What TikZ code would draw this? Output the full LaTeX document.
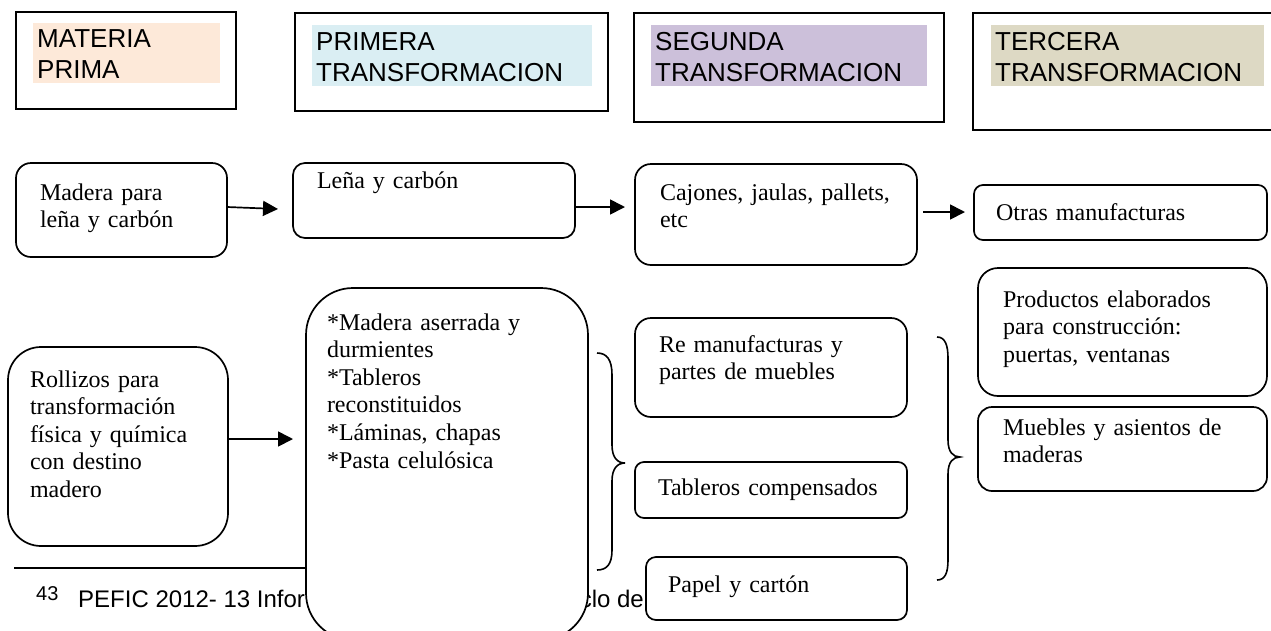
\documentclass[tikz,border=0pt]{standalone}
\usepackage{fontspec}
\setmainfont{Liberation Serif}
\newfontfamily\hsans{Liberation Sans}
\usetikzlibrary{arrows.meta}
\definecolor{cMat}{HTML}{FDE9D9}
\definecolor{cPri}{HTML}{DAEEF3}
\definecolor{cSeg}{HTML}{CCC0DA}
\definecolor{cTer}{HTML}{DDD9C4}
\begin{document}
\begin{tikzpicture}[x=1pt,y=-1pt,
  hdr/.style={draw, line width=1.8pt, anchor=north west, inner sep=0pt, outer sep=0pt},
  hl/.style={anchor=north west, inner xsep=4pt, inner ysep=0pt, align=left, font=\hsans\fontsize{26}{31}\selectfont},
  rb/.style={draw, line width=1.7pt, fill=white, anchor=north west, inner ysep=0pt, outer sep=0pt, align=left, font=\fontsize{24}{27.6}\selectfont},
  arr/.style={line width=1.7pt, -{Triangle[length=15pt,width=15pt]}},
  bracestyle/.style={line width=1.6pt},
  fnote/.style={anchor=base west, inner sep=0pt, font=\hsans\fontsize{24}{28}\selectfont}
]
\useasboundingbox (0,0) rectangle (1271,630);
\fill[white] (0,0) rectangle (1271,630);

% header boxes
\node[hdr, minimum width=220pt, minimum height=97pt] (h1) at (16,12) {};
\node[hl, fill=cMat, text width=179pt, text height=24pt, text depth=36pt] (h1t) at (33,23) {MATERIA\\PRIMA};
\node[hdr, minimum width=313pt, minimum height=98pt] (h2) at (295,13) {};
\node[hl, fill=cPri, text width=272pt, text height=25pt, text depth=36pt] (h2t) at (312,25) {PRIMERA\\TRANSFORMACION};
\node[hdr, minimum width=310pt, minimum height=109pt] (h3) at (634,13) {};
\node[hl, fill=cSeg, text width=268pt, text height=25pt, text depth=36pt] (h3t) at (651,25) {SEGUNDA\\TRANSFORMACION};
\node[hdr, minimum width=320pt, minimum height=117pt] (h4) at (973,13) {};
\node[hl, fill=cTer, text width=265pt, text height=25pt, text depth=36pt] (h4t) at (991,25) {TERCERA\\TRANSFORMACION};

% footnote
\draw[line width=1.8pt] (14,568) -- (320,568);
\node[anchor=base west, inner sep=0pt, font=\hsans\fontsize{20}{22}\selectfont] (fn43) at (36,600) {43};
\node[fnote] (fn1) at (78,607) {PEFIC 2012- 13 Infor};
\node[fnote, anchor=base east] (fn2) at (644,607) {clo de};

% row 1
\node[rb, rounded corners=15pt, inner xsep=24pt, text width=163pt, text height=37pt, text depth=57pt] (b1) at (16,163) {Madera para\\leña y carbón};
\node[rb, rounded corners=12pt, inner xsep=24pt, text width=234pt, text height=25pt, text depth=50pt] (b2) at (293,163) {Leña y carbón};
\node[rb, rounded corners=16pt, inner xsep=25pt, text width=232pt, text height=36pt, text depth=65pt] (b3) at (635,164) {\mbox{Cajones, jaulas, pallets,}\\etc};
\node[rb, rounded corners=9pt, inner xsep=22pt, text width=249pt, text height=35pt, text depth=20pt] (b4) at (974,185) {Otras manufacturas};

% row 2
\node[rb, rounded corners=33pt, inner xsep=22pt, text width=176pt, text height=40pt, text depth=159pt] (b5) at (8,347) {Rollizos para\\transformación\\física y química\\con destino\\madero};
\node[rb, rounded corners=47pt, inner xsep=21pt, text width=240pt, text height=42pt, text depth=310pt] (b6) at (306,288) {*Madera aserrada y\\durmientes\\{}*Tableros\\reconstituidos\\{}*Láminas, chapas\\{}*Pasta celulósica};
\node[rb, rounded corners=16pt, inner xsep=24pt, text width=224pt, text height=34pt, text depth=65pt] (b7) at (635,318) {Re manufacturas y\\partes de muebles};
\node[rb, rounded corners=9pt, inner xsep=23pt, text width=226pt, text height=33pt, text depth=23pt] (b8) at (635,462) {\mbox{Tableros compensados}};
\node[rb, rounded corners=10pt, inner xsep=22pt, text width=217pt, text height=35pt, text depth=28pt] (b9) at (646,557) {Papel y cartón};
\node[rb, rounded corners=20pt, inner xsep=25pt, text width=239pt, text height=39pt, text depth=89pt] (b10) at (978,268) {Productos elaborados\\para construcción:\\puertas, ventanas};
\node[rb, rounded corners=14pt, inner xsep=25pt, text width=239pt, text height=28pt, text depth=56pt] (b11) at (978,407) {\mbox{Muebles y asientos de}\\maderas};

% arrows
\coordinate (t1) at (278,209);
\draw[arr] ([yshift=3pt]b1.east) -- (t1);
\coordinate (t2) at (625,207);
\draw[arr] (b2.east |- t2) -- (t2);
\coordinate (s3) at (923,212);
\coordinate (t3) at (965,212);
\draw[arr] (s3) -- (t3);
\coordinate (t4) at (293,439);
\draw[arr] (b5.east |- t4) -- (t4);

% braces
\draw[bracestyle] (597,353) .. controls (607,353) and (612,360) .. (612,375) -- (612,445) .. controls (612,457) and (617,463) .. (625,463) .. controls (617,463) and (612,469) .. (612,481) -- (612,550) .. controls (612,564) and (607,570) .. (597,570);
\draw[bracestyle] (937,337) .. controls (945,337) and (948,345) .. (948,358) -- (948,440) .. controls (948,452) and (953,457) .. (960,457) .. controls (953,457) and (948,462) .. (948,474) -- (948,560) .. controls (948,573) and (945,580) .. (937,580);
\end{tikzpicture}
\end{document}
